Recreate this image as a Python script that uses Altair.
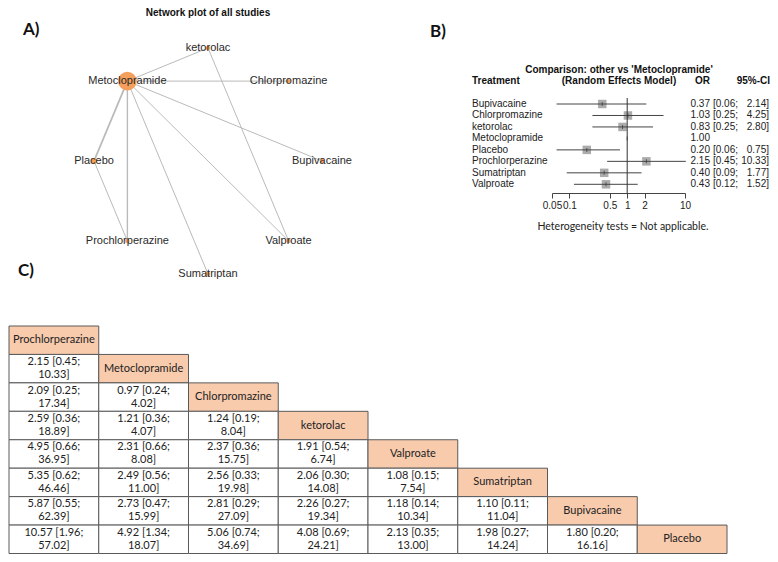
import math
import altair as alt
import pandas as pd

# ---------------- data ----------------
# Panel A: network (circular layout order, clockwise from top)
net_nodes = ["ketorolac", "Chlorpromazine", "Bupivacaine", "Valproate",
             "Sumatriptan", "Prochlorperazine", "Placebo", "Metoclopramide"]
net_node_weight = [1, 1, 1, 1, 1, 1, 2, 18]
net_edge_from = ["Metoclopramide"] * 7 + ["ketorolac", "Placebo"]
net_edge_to = ["ketorolac", "Chlorpromazine", "Bupivacaine", "Valproate",
               "Sumatriptan", "Prochlorperazine", "Placebo", "Valproate",
               "Prochlorperazine"]
net_edge_studies = [1, 1, 1, 1, 1, 2, 3, 1, 1]

# Panel B: forest plot vs Metoclopramide
forest_treat = ["Bupivacaine", "Chlorpromazine", "ketorolac", "Metoclopramide",
                "Placebo", "Prochlorperazine", "Sumatriptan", "Valproate"]
forest_or = [0.37, 1.03, 0.83, 1.00, 0.20, 2.15, 0.40, 0.43]
forest_lo = [0.06, 0.25, 0.25, None, 0.06, 0.45, 0.09, 0.12]
forest_hi = [2.14, 4.25, 2.80, None, 0.75, 10.33, 1.77, 1.52]
forest_ticks = [0.05, 0.1, 0.5, 1, 2, 10]

# Panel C: league table
league_order = ["Prochlorperazine", "Metoclopramide", "Chlorpromazine", "ketorolac",
                "Valproate", "Sumatriptan", "Bupivacaine", "Placebo"]
league_or = [[2.15],
             [2.09, 0.97],
             [2.59, 1.21, 1.24],
             [4.95, 2.31, 2.37, 1.91],
             [5.35, 2.49, 2.56, 2.06, 1.08],
             [5.87, 2.73, 2.81, 2.26, 1.18, 1.10],
             [10.57, 4.92, 5.06, 4.08, 2.13, 1.98, 1.80]]
league_lo = [[0.45],
             [0.25, 0.24],
             [0.36, 0.36, 0.19],
             [0.66, 0.66, 0.36, 0.54],
             [0.62, 0.56, 0.33, 0.30, 0.15],
             [0.55, 0.47, 0.29, 0.27, 0.14, 0.11],
             [1.96, 1.34, 0.74, 0.69, 0.35, 0.27, 0.20]]
league_hi = [[10.33],
             [17.34, 4.02],
             [18.89, 4.07, 8.04],
             [36.95, 8.08, 15.75, 6.74],
             [46.46, 11.00, 19.98, 14.08, 7.54],
             [62.39, 15.99, 27.09, 19.34, 10.34, 11.04],
             [57.02, 18.07, 34.69, 24.21, 13.00, 14.24, 16.16]]

# ---------------- tables ----------------
n = len(net_nodes)
pos = {}
for i, name in enumerate(net_nodes):
    a = math.radians(90 - 360.0 / n * i)
    pos[name] = (math.cos(a), math.sin(a))
nodes_df = pd.DataFrame({
    "name": net_nodes,
    "x": [pos[k][0] for k in net_nodes],
    "y": [pos[k][1] for k in net_nodes],
    "w": net_node_weight,
})
edges_df = pd.DataFrame({
    "x": [pos[a][0] for a in net_edge_from],
    "y": [pos[a][1] for a in net_edge_from],
    "x2": [pos[b][0] for b in net_edge_to],
    "y2": [pos[b][1] for b in net_edge_to],
    "w": net_edge_studies,
})

forest_df = pd.DataFrame({
    "treat": forest_treat,
    "idx": list(range(len(forest_treat))),
    "or": forest_or,
    "lo": forest_lo,
    "hi": forest_hi,
})
forest_df["or_txt"] = [f"{v:.2f}" for v in forest_or]
forest_df["lo_txt"] = [f"[{v:.2f};" if v is not None else "" for v in forest_lo]
forest_df["hi_txt"] = [f"{v:.2f}]" if v is not None else "" for v in forest_hi]
ref_df = pd.DataFrame({"v": [1.0], "a": [0], "b": [len(forest_treat) - 1]})

cells = []
for r, name in enumerate(league_order):
    for c in range(r):
        txt = f"{league_or[r-1][c]:.2f} [{league_lo[r-1][c]:.2f};\n{league_hi[r-1][c]:.2f}]"
        cells.append({"r": r, "c": c, "kind": "val", "txt": txt})
    cells.append({"r": r, "c": r, "kind": "head", "txt": name})
cells_df = pd.DataFrame(cells)
cells_df["r1"] = cells_df["r"] + 1
cells_df["c1"] = cells_df["c"] + 1
cells_df["rm"] = cells_df["r"] + 0.5
cells_df["cm"] = cells_df["c"] + 0.5

# ---------------- scales ----------------
W, H = 762, 546
NX = alt.Scale(domain=[-1, 1], range=[86, 314], nice=False, zero=False)
NY = alt.Scale(domain=[-1, 1], range=[266, 40], nice=False, zero=False)
FX = alt.Scale(type="log", domain=[0.05, 10], range=[544, 677], nice=False)
FY = alt.Scale(domain=[0, 7], range=[96, 176.3], nice=False, zero=False)
TX = alt.Scale(domain=[0, 8], range=[1, 719], nice=False, zero=False)
TY = alt.Scale(domain=[0, 8], range=[318, 545.5], nice=False, zero=False)

SANS = "Liberation Sans"
CAL = "Lato"


def label(text, x, y, **kw):
    return alt.Chart(pd.DataFrame({"t": [text]})).mark_text(**kw).encode(
        x=alt.value(x), y=alt.value(y), text="t:N")


# ---------------- panel A ----------------
edges = alt.Chart(edges_df).mark_rule(color="#BABABA").encode(
    x=alt.X("x:Q", scale=NX, axis=None), y=alt.Y("y:Q", scale=NY, axis=None),
    x2="x2:Q", y2="y2:Q",
    strokeWidth=alt.StrokeWidth("w:Q", scale=alt.Scale(domain=[1, 3], range=[1, 1.8]), legend=None))
nodes = alt.Chart(nodes_df).mark_circle(color="#F4A05C", opacity=1).encode(
    x=alt.X("x:Q", scale=NX, axis=None), y=alt.Y("y:Q", scale=NY, axis=None),
    size=alt.Size("w:Q", scale=alt.Scale(domain=[0, 18], range=[0, 346]), legend=None))
node_labels = alt.Chart(nodes_df).mark_text(font=SANS, fontSize=11, color="#2A2A2A",
                                            baseline="middle", align="center").encode(
    x=alt.X("x:Q", scale=NX, axis=None), y=alt.Y("y:Q", scale=NY, axis=None), text="name:N")
titleA = label("Network plot of all studies", 200, 0, font=SANS, fontSize=10,
               fontWeight="bold", baseline="top", align="center", color="#111111")
labA = label("A)", 15, 22, font=CAL, fontSize=17, fontWeight="bold", align="left",
             baseline="middle", color="#111111")

# ---------------- panel B ----------------
has_ci = "isValid(datum.lo)"
squares = alt.Chart(forest_df).transform_filter(has_ci).mark_square(
    size=72, color="#ABABAB", opacity=1).encode(
    x=alt.X("or:Q", scale=FX, axis=alt.Axis(
        values=forest_ticks, format="~g", title=None, orient="bottom", offset=-(H - 185),
        grid=False, labelFlush=False, labelOverlap=False, tickSize=5,
        domainColor="#444444", tickColor="#444444", labelColor="#222222",
        labelFont=SANS, labelFontSize=10, labelPadding=2)),
    y=alt.Y("idx:Q", scale=FY, axis=None))
ci = alt.Chart(forest_df).transform_filter(has_ci).mark_rule(color="#444444", strokeWidth=1).encode(
    x=alt.X("lo:Q", scale=FX, axis=None), x2="hi:Q", y=alt.Y("idx:Q", scale=FY, axis=None))
est = alt.Chart(forest_df).mark_tick(orient="vertical", size=4, thickness=1, color="#333333").encode(
    x=alt.X("or:Q", scale=FX, axis=None), y=alt.Y("idx:Q", scale=FY, axis=None))
refline = alt.Chart(ref_df).mark_rule(color="#333333", yOffset=-6, y2Offset=9).encode(
    x=alt.X("v:Q", scale=FX, axis=None), y=alt.Y("a:Q", scale=FY, axis=None), y2="b:Q")
txt_kw = dict(font=SANS, fontSize=10, color="#222222", baseline="middle")
names = alt.Chart(forest_df).mark_text(align="left", **txt_kw).encode(
    x=alt.value(464), y=alt.Y("idx:Q", scale=FY, axis=None), text="treat:N")
ors = alt.Chart(forest_df).mark_text(align="right", **txt_kw).encode(
    x=alt.value(702), y=alt.Y("idx:Q", scale=FY, axis=None), text="or_txt:N")
los = alt.Chart(forest_df).mark_text(align="left", **txt_kw).encode(
    x=alt.value(705), y=alt.Y("idx:Q", scale=FY, axis=None), text="lo_txt:N")
his = alt.Chart(forest_df).mark_text(align="right", **txt_kw).encode(
    x=alt.value(761), y=alt.Y("idx:Q", scale=FY, axis=None), text="hi_txt:N")
hd_kw = dict(font=SANS, fontSize=10, fontWeight="bold", color="#111111", baseline="middle")
h1 = label("Comparison: other vs 'Metoclopramide'", 611, 61.5, align="center", **hd_kw)
h2 = label("(Random Effects Model)", 611, 72.5, align="center", **hd_kw)
h3 = label("Treatment", 464, 72.5, align="left", **hd_kw)
h4 = label("OR", 702, 72.5, align="right", **hd_kw)
h5 = label("95%-CI", 762, 72.5, align="right", **hd_kw)
het = label("Heterogeneity tests = Not applicable.", 615, 219, font=CAL, fontSize=10.5,
            align="center", baseline="middle", color="#222222")
labB = label("B)", 422, 24, font=CAL, fontSize=17, fontWeight="bold", align="left",
             baseline="middle", color="#111111")

# ---------------- panel C ----------------
rects = alt.Chart(cells_df).mark_rect(stroke="#5A5A5A", strokeWidth=1).encode(
    x=alt.X("c:Q", scale=TX, axis=None), x2="c1:Q",
    y=alt.Y("r:Q", scale=TY, axis=None), y2="r1:Q",
    fill=alt.Fill("kind:N", scale=alt.Scale(domain=["head", "val"], range=["#F8CBAD", "#FFFFFF"]),
                  legend=None))
val_txt = alt.Chart(cells_df).transform_filter("datum.kind == 'val'").mark_text(
    font=CAL, fontSize=11, lineBreak="\n", lineHeight=13, dy=-6.5,
    baseline="middle", align="center", color="#222222").encode(
    x=alt.X("cm:Q", scale=TX, axis=None), y=alt.Y("rm:Q", scale=TY, axis=None), text="txt:N")
head_txt = alt.Chart(cells_df).transform_filter("datum.kind == 'head'").mark_text(
    font=CAL, fontSize=11, baseline="middle", align="center", color="#222222").encode(
    x=alt.X("cm:Q", scale=TX, axis=None), y=alt.Y("rm:Q", scale=TY, axis=None), text="txt:N")
labC = label("C)", 10, 263, font=CAL, fontSize=17, fontWeight="bold", align="left",
             baseline="middle", color="#111111")

chart = alt.layer(
    edges, nodes, node_labels, titleA, labA,
    squares, ci, est, refline, names, ors, los, his, h1, h2, h3, h4, h5, het, labB,
    rects, val_txt, head_txt, labC,
).resolve_scale(
    x="independent", y="independent", size="independent",
    strokeWidth="independent", fill="independent"
).properties(
    width=W, height=H, padding=0, autosize="none", background="white"
).configure_view(stroke=None)

chart.save("out.html", embed_options={"renderer": "svg", "actions": False})
